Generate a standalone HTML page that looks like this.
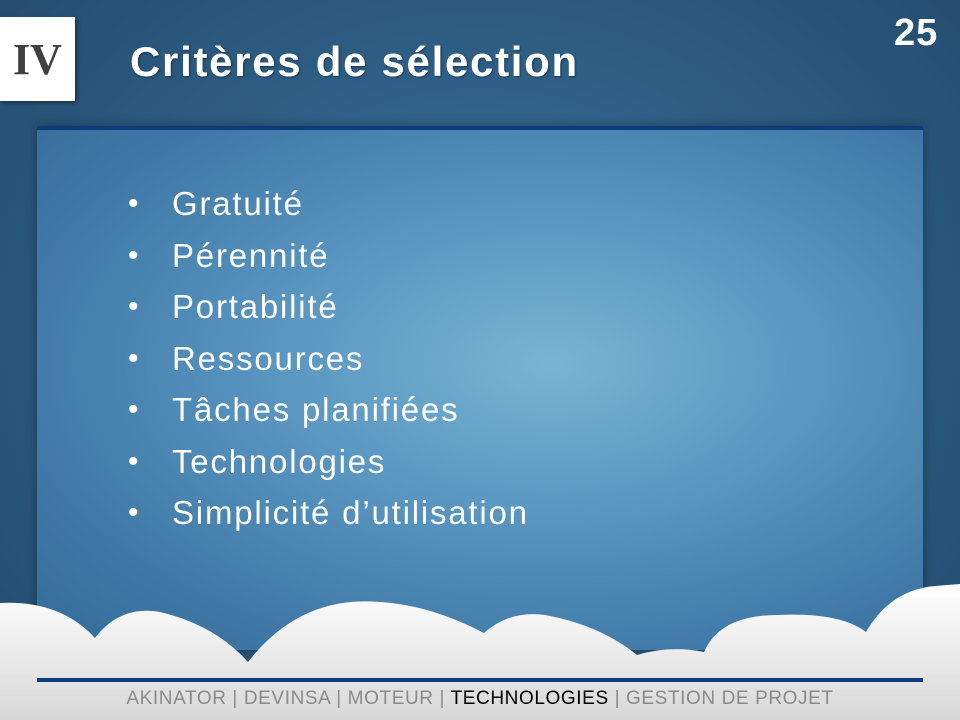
<!DOCTYPE html>
<html><head><meta charset="utf-8">
<style>
html,body{margin:0;padding:0;}
body{width:960px;height:720px;position:relative;overflow:hidden;
 background:radial-gradient(ellipse at 50% 45%,#3f77a0 0%,#2f5f86 45%,#234a6c 100%);
 font-family:"Liberation Sans",sans-serif;}
.panel{position:absolute;left:37px;top:126px;width:886px;height:520px;
 background:radial-gradient(ellipse at 58% 45%,#7ab4d3 0%,#5b98c2 35%,#3f78a6 75%,#346c98 100%);
 border-top:4px solid #0e3b7a;box-shadow:0 0 10px rgba(0,0,0,0.35);}
.iv{position:absolute;left:0;top:17px;width:75px;height:84px;background:#fff;
 box-shadow:2px 2px 4px rgba(0,0,0,0.4);text-align:center;line-height:86px;
 font-family:"Liberation Serif",serif;font-weight:bold;font-size:44px;color:#404040;}
.title{position:absolute;left:130px;top:38px;color:#fff;font-weight:bold;font-size:42px;
 text-shadow:1px 1px 2px rgba(0,0,0,0.4);letter-spacing:1.7px;}
.num{position:absolute;left:894px;top:12px;color:#fff;font-weight:bold;font-size:38px;letter-spacing:1px;}
ul{position:absolute;left:0;top:181px;margin:0;padding:0;list-style:none;}
li{position:relative;height:51.5px;line-height:46px;font-size:33px;color:#fff;padding-left:172px;letter-spacing:1.8px;}
li::before{content:"•";position:absolute;left:128px;top:0;letter-spacing:0;font-size:30px;}
.clouds{position:absolute;left:0;top:0;}
.line{position:absolute;left:37px;top:678px;width:886px;height:4px;background:#0e3b7a;}
.foot{position:absolute;left:0;width:960px;top:688px;text-align:center;font-size:19px;color:#8a8a8a;letter-spacing:0.6px;}
.foot b{font-weight:normal;color:#000;}
</style></head>
<body>
<div class="panel"></div>
<div class="iv">IV</div>
<div class="title">Critères de sélection</div>
<div class="num">25</div>
<ul>
<li>Gratuité</li>
<li>Pérennité</li>
<li>Portabilité</li>
<li>Ressources</li>
<li>Tâches planifiées</li>
<li>Technologies</li>
<li>Simplicité d’utilisation</li>
</ul>
<svg class="clouds" width="960" height="720">
<defs><linearGradient id="cg" x1="0" y1="0" x2="0" y2="1">
<stop offset="0" stop-color="#ffffff"/><stop offset="1" stop-color="#d8d8d8"/></linearGradient></defs>
<path fill="url(#cg)" d="M0,603 Q60,600 95,638 Q120,605 160,612 Q215,625 248,662 Q300,595 380,602 Q430,605 484,633 Q510,610 545,615 Q600,625 637,655 Q670,645 704,652 Q720,615 778,615 Q840,612 866,632 Q890,590 935,586 L960,584 L960,720 L0,720 Z"/>
</svg>
<div class="line"></div>
<div class="foot">AKINATOR | DEVINSA | MOTEUR | <b>TECHNOLOGIES</b> | GESTION DE PROJET</div>
</body></html>
